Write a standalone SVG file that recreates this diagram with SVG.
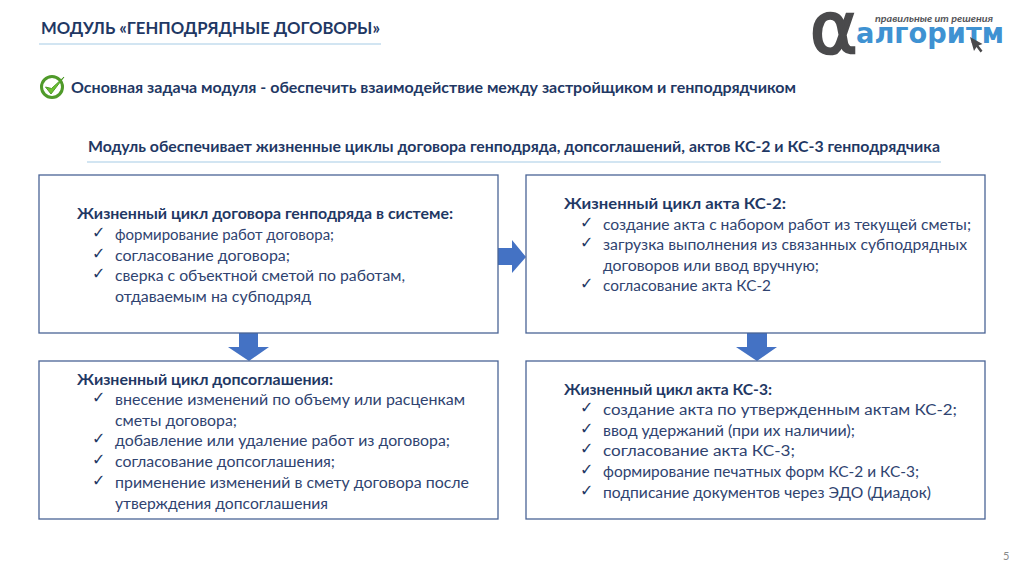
<svg xmlns="http://www.w3.org/2000/svg" width="1024" height="574" viewBox="0 0 1024 574">
<style>
text{font-family:Lato,"Open Sans","Noto Sans",sans-serif;fill:#2f4370;font-size:15.500px}
.h{font-weight:700;fill:#1f3864}
.c{font-family:"DejaVu Sans",sans-serif;font-size:16px;fill:#1f3864}
.b{fill:#fff;stroke:#4a6496;stroke-width:1.3}
.r{stroke:#a6cbe6;stroke-width:1.2;fill:none}
.a{fill:#4472c4}
</style>
<rect width="1024" height="574" fill="#fff"/>
<g id="header">
<text class="h" x="41" y="33.500" textLength="339" lengthAdjust="spacingAndGlyphs" style="font-size:17px">МОДУЛЬ «ГЕНПОДРЯДНЫЕ ДОГОВОРЫ»</text>
<line class="r" x1="39" y1="44" x2="381" y2="44"/>
</g>
<g id="logo">
<text x="810" y="53" style="font-family:'DejaVu Sans',sans-serif;font-size:72px;fill:#4a4a4c;stroke:#4a4a4c;stroke-width:2.500">α</text>
<text x="875" y="22" textLength="118" lengthAdjust="spacingAndGlyphs" style="font-size:10px;font-style:italic;font-weight:700;fill:#55565a">правильные ит решения</text>
<text x="856" y="43" textLength="148" lengthAdjust="spacingAndGlyphs" style="font-family:'DejaVu Sans',sans-serif;font-size:29px;font-weight:700;fill:#3f92d2">алгоритм</text>
<path d="M970 37l4 14 2.500-4 4 5.500 2-1.800-4-5.200 4-1.500z" fill="#4a4a4c"/>
</g>
<g id="task">
<circle cx="52" cy="87" r="10.500" fill="#fff" stroke="#4f9a2a" stroke-width="3"/>
<path d="M45.500 87l5.500 7 13-17-12.500 11.500z" fill="#6cc22f" stroke="#4f9a2a" stroke-width="1"/>
<text class="h" x="71" y="93" textLength="725" lengthAdjust="spacingAndGlyphs">Основная задача модуля - обеспечить взаимодействие между застройщиком и генподрядчиком</text>
</g>
<g id="subtitle">
<text class="h" x="88" y="152" textLength="852" lengthAdjust="spacingAndGlyphs">Модуль обеспечивает жизненные циклы договора генподряда, допсоглашений, актов КС-2 и КС-3 генподрядчика</text>
<line class="r" x1="87" y1="162" x2="941" y2="162"/>
</g>
<g id="connectors">
<path class="a" d="M498 248h14v-8l14 17-14 16v-8h-14z"/>
<path class="a" d="M239 333h19v14h11l-20 14-21-14h11z"/>
<path class="a" d="M747 333h20v14h10l-20 14-21-14h11z"/>
</g>
<g id="box1">
<rect class="b" x="39" y="175" width="459" height="158"/>
<text class="h" x="77" y="219" textLength="376" lengthAdjust="spacingAndGlyphs">Жизненный цикл договора генподряда в системе:</text>
<text class="c" x="92" y="238">✓</text><text x="115" y="240" textLength="219" lengthAdjust="spacingAndGlyphs">формирование работ договора;</text>
<text class="c" x="92" y="259">✓</text><text x="115" y="261" textLength="175" lengthAdjust="spacingAndGlyphs">согласование договора;</text>
<text class="c" x="92" y="279">✓</text><text x="115" y="281" textLength="290" lengthAdjust="spacingAndGlyphs">сверка с объектной сметой по работам,</text>
<text x="115" y="302" textLength="196" lengthAdjust="spacingAndGlyphs">отдаваемым на субподряд</text>
</g>
<g id="box2">
<rect class="b" x="526" y="175" width="459" height="158"/>
<text class="h" x="564" y="209" textLength="222" lengthAdjust="spacingAndGlyphs">Жизненный цикл акта КС-2:</text>
<text class="c" x="580" y="228">✓</text><text x="603" y="230" textLength="368" lengthAdjust="spacingAndGlyphs">создание акта с набором работ из текущей сметы;</text>
<text class="c" x="580" y="248">✓</text><text x="603" y="250" textLength="364" lengthAdjust="spacingAndGlyphs">загрузка выполнения из связанных субподрядных</text>
<text x="603" y="271" textLength="216" lengthAdjust="spacingAndGlyphs">договоров или ввод вручную;</text>
<text class="c" x="580" y="289">✓</text><text x="603" y="291" textLength="168" lengthAdjust="spacingAndGlyphs">согласование акта КС-2</text>
</g>
<g id="box3">
<rect class="b" x="39" y="361" width="459" height="158"/>
<text class="h" x="77" y="385" textLength="256" lengthAdjust="spacingAndGlyphs">Жизненный цикл допсоглашения:</text>
<text class="c" x="92" y="403">✓</text><text x="115" y="405" textLength="350" lengthAdjust="spacingAndGlyphs">внесение изменений по объему или расценкам</text>
<text x="115" y="426" textLength="122" lengthAdjust="spacingAndGlyphs">сметы договора;</text>
<text class="c" x="92" y="444">✓</text><text x="115" y="446" textLength="335" lengthAdjust="spacingAndGlyphs">добавление или удаление работ из договора;</text>
<text class="c" x="92" y="465">✓</text><text x="115" y="467" textLength="220" lengthAdjust="spacingAndGlyphs">согласование допсоглашения;</text>
<text class="c" x="92" y="486">✓</text><text x="115" y="488" textLength="354" lengthAdjust="spacingAndGlyphs">применение изменений в смету договора после</text>
<text x="115" y="509" textLength="213" lengthAdjust="spacingAndGlyphs">утверждения допсоглашения</text>
</g>
<g id="box4">
<rect class="b" x="526" y="361" width="459" height="158"/>
<text class="h" x="564" y="395" textLength="208" lengthAdjust="spacingAndGlyphs">Жизненный цикл акта КС-3:</text>
<text class="c" x="580" y="413">✓</text><text x="603" y="415" textLength="354" lengthAdjust="spacingAndGlyphs">создание акта по утвержденным актам КС-2;</text>
<text class="c" x="580" y="434">✓</text><text x="603" y="436" textLength="252" lengthAdjust="spacingAndGlyphs">ввод удержаний (при их наличии);</text>
<text class="c" x="580" y="454">✓</text><text x="603" y="456" textLength="192" lengthAdjust="spacingAndGlyphs">согласование акта КС-3;</text>
<text class="c" x="580" y="475">✓</text><text x="603" y="477" textLength="316" lengthAdjust="spacingAndGlyphs">формирование печатных форм КС-2 и КС-3;</text>
<text class="c" x="580" y="496">✓</text><text x="603" y="498" textLength="328" lengthAdjust="spacingAndGlyphs">подписание документов через ЭДО (Диадок)</text>
</g>
<text x="1003" y="560" style="font-size:11px;fill:#8a8a8a">5</text>
</svg>
